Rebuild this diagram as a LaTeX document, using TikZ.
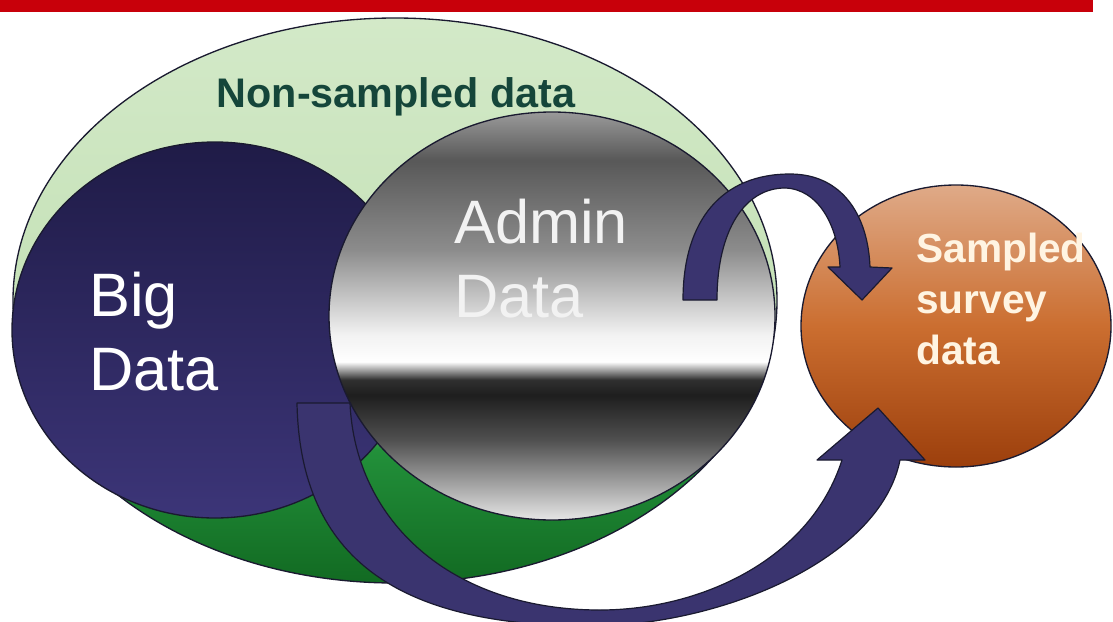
\documentclass[tikz,border=0pt]{standalone}
\usepackage{fontspec}
\setmainfont{Liberation Sans}

\definecolor{barred}{HTML}{C8000A}
\definecolor{greenA}{HTML}{D3E9C8}
\definecolor{greenB}{HTML}{C4E1B6}
\definecolor{greenC}{HTML}{B0D6A0}
\definecolor{greenD}{HTML}{22903A}
\definecolor{greenE}{HTML}{126A22}
\definecolor{adminA}{HTML}{9A9A9A}
\definecolor{adminB}{HTML}{585858}
\definecolor{adminC}{HTML}{8C8C8C}
\definecolor{adminD}{HTML}{F2F2F2}
\definecolor{adminE}{HTML}{303030}
\definecolor{adminF}{HTML}{1E1E1E}
\definecolor{adminG}{HTML}{505050}
\definecolor{adminH}{HTML}{E6E6E6}
\definecolor{navytop}{HTML}{1F1B47}
\definecolor{navybot}{HTML}{3C3578}
\definecolor{arrowfill}{HTML}{3A346F}
\definecolor{edge}{HTML}{1A1A30}
\definecolor{orangetop}{HTML}{DFAA88}
\definecolor{orangemid}{HTML}{CB6E30}
\definecolor{orangebot}{HTML}{9C3F0C}
\definecolor{labelgreen}{HTML}{15463A}
\definecolor{cream}{HTML}{FFF4E2}

% shadings run from the bottom (25bp) to the top (75bp) of the shape
\pgfdeclareverticalshading{outershade}{100bp}{color(0bp)=(greenE); color(25bp)=(greenE);
  color(36.8bp)=(greenD); color(41.2bp)=(greenC); color(47.4bp)=(greenB);
  color(75bp)=(greenA); color(100bp)=(greenA)}
\pgfdeclareverticalshading{adminshade}{100bp}{color(0bp)=(adminH); color(25bp)=(adminH);
  color(34.8bp)=(adminG); color(40.3bp)=(adminF); color(42.2bp)=(adminE);
  color(44.4bp)=(white); color(47.7bp)=(adminD); color(58.1bp)=(adminC);
  color(69.1bp)=(adminB); color(75bp)=(adminA); color(100bp)=(adminA)}

\tikzset{
  blob/.style={draw=edge, line width=1pt},
  bend arrow/.style={fill=arrowfill, draw=edge, line width=0.9pt, line join=round},
  big label/.style={font=\fontsize{46}{55}\selectfont, align=left, inner sep=0pt},
}

\begin{document}
\begin{tikzpicture}[x=0.75pt, y=-0.75pt]
    \useasboundingbox (0,0) rectangle (1113,621);
    \fill[barred] (0,0) rectangle (1093,12);

    % the three data sets
    \shadedraw[blob, shading=outershade] (395,300.5) ellipse [x radius=382, y radius=282.5];
    \shadedraw[blob, top color=navytop, bottom color=navybot] (215,330) ellipse [x radius=203, y radius=188];
    \shadedraw[blob, shading=adminshade] (552,316) ellipse [x radius=223, y radius=204];
    \shadedraw[blob, top color=orangetop, bottom color=orangebot, middle color=orangemid] (956,326) ellipse [x radius=155, y radius=141];

    % arrows into the survey
    \draw[bend arrow] (683,300) .. controls (683,220) and (722,174) .. (790,174)
        .. controls (842,174) and (868,215) .. (870,267) -- (892,268) -- (862,300) -- (828,267) -- (840,267)
        .. controls (838,225) and (818,189) .. (785,188) .. controls (745,188) and (717,230) .. (717,300) -- cycle;
    \draw[bend arrow] (297,403) .. controls (300,560) and (400,626) .. (590,626)
        .. controls (720,626) and (880,560) .. (900,460) -- (925,460) -- (878,408) -- (817,460) -- (842,460)
        .. controls (810,560) and (700,610) .. (600,610) .. controls (450,610) and (355,520) .. (350,403) -- cycle;

    % base anchor sits on the last line
    \node[font=\fontsize{31}{37}\selectfont\bfseries, text=labelgreen, anchor=base] (nonsampled) at (396,107) {Non-sampled data};
    \node[big label, text=white, anchor=base west] (bigdata) at (89,390) {Big\\Data};
    \node[big label, text=adminD, anchor=base west] (admindata) at (454,317) {Admin\\Data};
    \node[big label, font=\fontsize{30.5}{38}\selectfont\bfseries, text=cream, anchor=base west] (sampled) at (916,364) {Sampled\\survey\\data};
\end{tikzpicture}
\end{document}
